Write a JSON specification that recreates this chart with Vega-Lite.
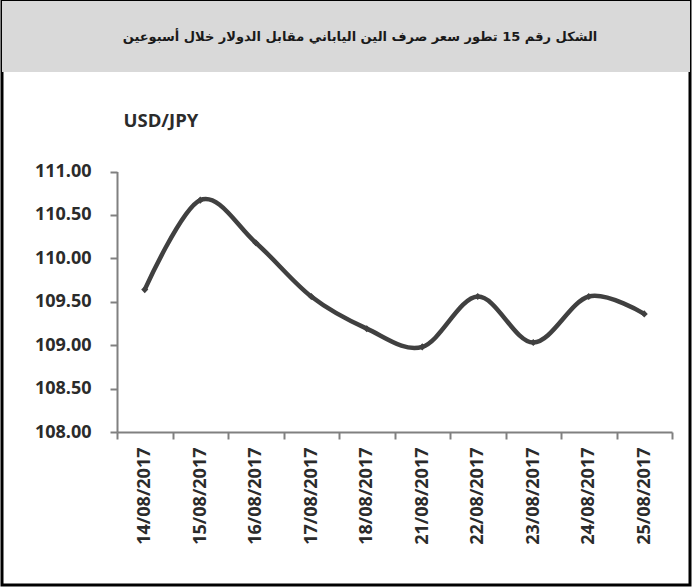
{
  "$schema": "https://vega.github.io/schema/vega-lite/v6.json",
  "width": 688,
  "height": 584,
  "padding": {"left": 2, "top": 1, "right": 3, "bottom": 2},
  "autosize": {"type": "none"},
  "background": "#ffffff",
  "view": {"stroke": "#000000", "strokeWidth": 3, "fill": "#ffffff"},
  "config": {"font": "Open Sans"},
  "layer": [
    {
      "data": {"values": [{"section": "header", "title": "الشكل رقم 15 تطور سعر صرف الين الياباني مقابل الدولار خلال أسبوعين"}]},
      "layer": [
        {
          "mark": {"type": "rect", "fill": "#d9d9d9"},
          "encoding": {
            "y": {"field": "section", "type": "nominal", "axis": null,
                  "scale": {"type": "band", "range": [0, 71], "paddingInner": 0, "paddingOuter": 0}}
          }
        },
        {
          "mark": {"type": "text", "font": "DejaVu Sans", "fontWeight": "bold", "fontSize": 13, "color": "#1a1a1a", "dx": 14},
          "encoding": {
            "y": {"field": "section", "type": "nominal", "axis": null,
                  "scale": {"type": "band", "range": [0, 71], "paddingInner": 0, "paddingOuter": 0}},
            "text": {"field": "title"}
          }
        }
      ]
    },
    {
      "data": {"values": [
        {"date": "14/08/2017", "rate": 109.64},
        {"date": "15/08/2017", "rate": 110.67},
        {"date": "16/08/2017", "rate": 110.18},
        {"date": "17/08/2017", "rate": 109.56},
        {"date": "18/08/2017", "rate": 109.19},
        {"date": "21/08/2017", "rate": 108.98},
        {"date": "22/08/2017", "rate": 109.56},
        {"date": "23/08/2017", "rate": 109.03},
        {"date": "24/08/2017", "rate": 109.56},
        {"date": "25/08/2017", "rate": 109.36}
      ]},
      "encoding": {
        "x": {"field": "date", "type": "ordinal", "sort": null, "bandPosition": 0.5,
              "scale": {"type": "band", "range": [115, 670], "paddingInner": 0, "paddingOuter": 0},
              "axis": {"title": null, "orient": "bottom", "offset": -153, "labelAngle": -90,
                       "labelFontSize": 18, "labelFontWeight": "bold", "labelColor": "#2b2b2b",
                       "labelPadding": 8, "tickSize": 7, "tickBand": "extent",
                       "tickColor": "#808080", "tickWidth": 2, "domainColor": "#808080", "domainWidth": 2}},
        "y": {"field": "rate", "type": "quantitative",
              "scale": {"domain": [108, 111], "range": [431, 170.5], "zero": false, "nice": false},
              "axis": {"title": "USD/JPY", "orient": "left", "offset": -115, "grid": false,
                       "values": [108, 108.5, 109, 109.5, 110, 110.5, 111], "format": ".2f",
                       "labelFontSize": 18, "labelFontWeight": "bold", "labelColor": "#2b2b2b",
                       "labelPadding": 19, "tickSize": 7, "tickColor": "#808080", "tickWidth": 2,
                       "domainColor": "#808080", "domainWidth": 2,
                       "titleAngle": 0, "titleAlign": "left", "titleBaseline": "middle",
                       "titleX": 6, "titleY": 119, "titleFontSize": 18.5, "titleFontWeight": "bold", "titleColor": "#2b2b2b"}}
      },
      "layer": [
        {"mark": {"type": "line", "interpolate": "cardinal", "color": "#404040", "strokeWidth": 4.5}},
        {"mark": {"type": "point", "shape": "diamond", "filled": true, "color": "#404040", "size": 50, "opacity": 1}}
      ]
    }
  ],
  "resolve": {"scale": {"y": "independent"}, "axis": {"y": "independent"}}
}
